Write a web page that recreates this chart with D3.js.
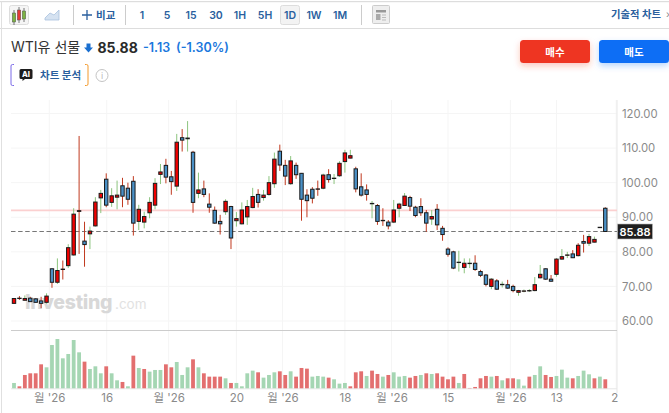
<!DOCTYPE html>
<html><head><meta charset="utf-8">
<script src="https://cdn.jsdelivr.net/npm/d3@7/dist/d3.min.js"></script>
<style>html,body{margin:0;padding:0;background:#fff;overflow:hidden}svg{display:block}text{font-family:Inter,"Noto Sans CJK KR",sans-serif}</style>
</head><body><svg id="c" width="669" height="413"></svg>
<script>
const opens=[65.1,66.5,66.0,66.6,66.4,65.8,65.4,75.1,71.2,74.9,76,79.1,91.7,83.1,85.2,87.5,95.6,101,94.3,95.8,99.1,98.4,100.4,88.8,88.6,91.3,93.5,102.4,105,101.7,99,113,112.7,108.8,96.9,98.2,93.8,92,88.8,91.6,93.1,89,88.1,90.1,92.8,96.6,95.7,96.6,99.7,109.1,105,99.7,105,102.7,96.4,98.1,98.1,98.4,102.3,101.2,102,106.1,107.1,104,98.8,97.9,93.9,93.4,89,88.6,88.6,92.6,93.4,95.7,92.9,93.1,91.3,89.5,92.3,86.8,80.8,80,76.9,75.5,76.6,76.7,74.3,73.3,70,71.6,70.5,70.5,70,68.3,68.6,68.7,68.8,72.5,75.1,72.1,73.5,77.9,79,79.4,78.9,83,82.5,82.8,87,92.6];
const closes=[66.5,66.6,66.5,65.6,65.4,65.1,67.2,71.2,74.6,75,81.2,90.9,91.9,82.1,86,94.4,96.9,93.5,96.2,96.4,96.1,95.2,88.3,92.3,90.2,94.3,99.8,103.1,101.6,100.3,111.7,112.3,112.9,94.3,97.9,96.6,92.9,88.3,88.1,94.6,84,89.6,92.1,93.1,96,94.3,96.4,100,106.8,105.1,101.9,106.3,102.3,95.2,94.8,95.5,98.2,102.2,100.9,101.3,105.6,108.6,107.8,98.2,96.4,96.6,94,88.8,89.1,87.5,92.1,93.8,96.1,93.2,90.5,91.3,88.3,90.2,87.8,85,79.3,75.3,77,76.7,76.7,74.9,73.2,70.6,72.1,69.2,70.6,69.5,68.8,68.8,68.7,68.8,70.5,73.5,72.1,71.5,77.9,78.6,79.1,78.3,81.9,82.5,84.4,83.6,87.1,85.88];
const highs=[66.6,67.2,67.4,67,66.6,67,68,75.2,78.1,77.5,82.2,92.6,113.5,88.7,87.3,95.8,97.9,102.7,98.4,100.6,101.4,100,101.9,93.6,91.6,95.8,101.3,105.4,106.9,103.4,114.1,115.5,117.8,109.2,102.9,100.6,96.9,93.1,90.7,95.2,93.3,91.5,94.3,95,98.5,98.1,97.9,101.9,108.7,111,106.6,107.7,105.8,102.8,98.1,98.7,100.6,102.6,103.9,102.5,106.2,109.5,109.5,104.6,102.7,99.5,94.7,93.8,92.6,89.2,95,94.2,97,96.2,93.3,95.5,92.1,92.1,93.8,87.5,81.3,80.3,80.3,78.1,78.1,79,74.8,73.6,72.4,72.1,71.4,71.9,70.5,69,69.1,69.2,72.7,76.2,75.2,73.3,78.2,80.8,80,80.5,82.5,84.9,85.2,84.4,87.1,92.9];
const lows=[65,66.1,65.9,65.5,65.3,63.7,65,69.6,70.7,72,75.3,78.9,79.4,75.7,80.8,87.3,91.2,92.9,93,92.3,92.9,93.6,84.7,86.3,86.8,89.7,92.3,99.6,99.8,96.5,97.6,109,109,91.3,95.5,95.8,91.3,88.1,85,90.7,80.8,87.3,87.9,87.8,92.6,92.8,94.8,96.2,98.5,103.4,99.3,99.4,101.1,89,90,94,96.2,98.1,100,99.6,101.7,102.9,107,97.2,96,94.8,89.7,87.8,87.5,86.5,88.3,90,93.3,91.8,90,90.4,85.8,87.8,86.3,83.2,78.6,75,74.3,73.8,75.3,74.5,72.7,70,69.2,69,69.7,69.3,68.3,67.3,68.3,68.4,68.6,72.3,71.9,71.4,72.8,77.7,78.2,78.2,78.7,79.8,81.7,82.7,87.1,85.88];
const wickTones=["r","r","g","r","r","r","g","r","g","r","g","g","r","r","g","g","g","r","g","g","r","r","r","g","g","g","g","g","r","r","g","r","g","r","g","r","r","r","r","g","r","g","g","g","g","r","g","g","g","r","r","g","r","r","r","r","r","g","r","g","g","g","g","r","r","r","g","r","r","r","g","g","g","r","r","r","r","g","r","r","r","r","g","g","g","r","r","r","g","r","g","r","r","g","g","g","g","g","r","r","g","g","g","r","r","r","g","g","g","r"];
const volumes=[16,6,40,45,45,72,63,130,148,90,103,145,108,80,58,66,45,66,45,24,19,6,98,61,58,50,55,55,72,63,79,40,63,87,63,45,35,35,35,30,16,16,6,45,53,48,32,40,48,51,40,51,35,61,59,35,37,35,32,27,14,16,6,48,51,37,53,43,35,40,48,35,37,32,37,40,45,43,45,35,27,35,16,43,1,4,30,37,35,37,24,30,30,27,8,35,40,66,40,34,37,56,32,30,37,53,42,30,35,27];
const volumeDirs=["g","r","r","r","r","r","g","g","g","g","g","g","g","r","g","g","g","r","g","g","r","g","r","g","r","g","g","g","r","r","g","g","g","r","g","r","r","r","r","g","r","g","g","g","g","r","g","g","g","r","r","g","r","r","r","g","g","g","r","g","g","g","r","r","r","g","r","r","g","r","g","g","g","r","r","g","r","g","r","r","r","r","g","r","r","r","r","r","g","r","g","r","r","g","g","r","g","g","r","r","g","g","g","r","g","g","g","r","g","r"];
const priceTicks=[60,70,80,90,100,110,120];
const timeTickPos=[6.5,17.1,28.5,41,49.5,61,69.6,80,91.5,100,111];
const timeTickLabels=["월 '26","16","월 '26","20","월 '26","18","월 '26","15","월 '26","13","2"];
const lastPrice=85.88, refPrice=92;
const toolbarLabels=["1","5","15","30","1H","5H","1D","1W","1M"];
const toolbarX=[142,167,191,216,240,265,290,314,340];

const svg=d3.select("#c");
const x=d3.scaleLinear().domain([0,109]).range([14,605.3]);
const y=d3.scaleLinear().domain([60,120]).range([321,113.5]);
const yv=d3.scaleLinear().domain([0,160]).range([388.3,335]);
const L=11,R=617;

// frame + toolbar
svg.append("rect").attr("x",0).attr("y",1).attr("width",669).attr("height",1.2).attr("fill","#ddd");
svg.append("rect").attr("x",0).attr("y",28).attr("width",669).attr("height",1).attr("fill","#ddd");
svg.append("rect").attr("x",1).attr("y",1).attr("width",1).attr("height",412).attr("fill","#e0e0e0");
const tb=svg.append("g");
tb.append("rect").attr("x",9.5).attr("y",5.5).attr("width",19).attr("height",19).attr("rx",2).attr("fill","#f5f5f5").attr("stroke","#ddd");
[[14,"#7cb342",13,9],[19,"#e53935",10,10],[24,"#7cb342",11,8]].forEach(d=>{
 tb.append("line").attr("x1",d[0]).attr("x2",d[0]).attr("y1",d[2]-3).attr("y2",d[2]+d[3]+3).attr("stroke","#555").attr("stroke-width",.8);
 tb.append("rect").attr("x",d[0]-1.7).attr("y",d[2]).attr("width",3.4).attr("height",d[3]).attr("fill",d[1]).attr("stroke","#555").attr("stroke-width",.5);
});
tb.append("path").attr("d","M45 18 L50 13 L54 15 L59 10 L59 20 L45 20Z").attr("fill","#d5e2f1").attr("stroke","#a9c2de").attr("stroke-width",.8);
[73,125,361].forEach(d=>tb.append("rect").attr("x",d).attr("y",5).attr("width",1).attr("height",20).attr("fill","#ccc"));
tb.append("path").attr("d","M82 15H92M87 10V20").attr("stroke","#2a5f9e").attr("stroke-width",1.3).attr("fill","none");
tb.append("text").attr("x",96).attr("y",18.5).attr("font-size",10.5).attr("font-weight",600).attr("fill","#2a5f9e").text("비교");
tb.append("rect").attr("x",280.5).attr("y",5.5).attr("width",19).attr("height",19).attr("rx",2).attr("fill","#f3f3f3").attr("stroke","#ddd");
toolbarLabels.forEach((t,i)=>tb.append("text").attr("x",toolbarX[i]).attr("y",19).attr("text-anchor","middle").attr("font-size",10.5).attr("font-weight",600).attr("fill","#2a5f9e").text(t));
tb.append("rect").attr("x",372.5).attr("y",5.5).attr("width",17).attr("height",18).attr("rx",1).attr("fill","#eee").attr("stroke","#ccc");
tb.append("rect").attr("x",376).attr("y",10).attr("width",10).attr("height",2.5).attr("fill","#999");
tb.append("rect").attr("x",376).attr("y",14).attr("width",4.5).attr("height",6).attr("fill","#aaa");
tb.append("path").attr("d","M382 15H386M382 17.5H386M382 20H386").attr("stroke","#bbb").attr("stroke-width",1);
tb.append("text").attr("x",611).attr("y",18).attr("font-size",10.3).attr("font-weight",600).attr("fill","#2a5f9e").text("기술적 차트");
tb.append("text").attr("x",666).attr("y",18).attr("font-size",10).attr("fill","#888").text("›");

// title
const hd=svg.append("g");
hd.append("text").attr("x",11).attr("y",52).attr("font-size",14).attr("fill","#333").text("WTI유 선물");
hd.append("path").attr("d","M86.5 43.5h4v4h2.5l-4.5 5-4.5-5h2.5z").attr("fill","#1a6fd0");
hd.append("text").attr("x",97.5).attr("y",52.5).attr("font-size",14).attr("font-weight",700).attr("fill","#2a2a2a").text("85.88");
hd.append("text").attr("x",143).attr("y",51.5).attr("font-size",12.5).attr("font-weight",600).attr("fill","#1a77dd").text("-1.13");
hd.append("text").attr("x",176).attr("y",51.5).attr("font-size",12.5).attr("font-weight",600).attr("fill","#1a77dd").text("(-1.30%)");
hd.append("path").attr("d","M14 64.5h-1.5a1.5 1.5 0 0 0-1.5 1.5v18a1.5 1.5 0 0 0 1.5 1.5H14").attr("fill","none").attr("stroke","#7b6be8").attr("stroke-width",1);
hd.append("path").attr("d","M85 64.5h1.5a1.5 1.5 0 0 1 1.5 1.5v18a1.5 1.5 0 0 1-1.5 1.5H85").attr("fill","none").attr("stroke","#f39a2d").attr("stroke-width",1);
hd.append("path").attr("d","M21 69h10a1.5 1.5 0 0 1 1.5 1.5v7a1.5 1.5 0 0 1-1.5 1.5h-6l-2.5 2v-2H21a1.5 1.5 0 0 1-1.5-1.5v-7A1.5 1.5 0 0 1 21 69z").attr("fill","#1d1d1d");
hd.append("text").attr("x",26).attr("y",77).attr("text-anchor","middle").attr("font-size",7.5).attr("font-weight",800).attr("fill","#fff").text("AI");
hd.append("text").attr("x",40).attr("y",79).attr("font-size",10.5).attr("font-weight",700).attr("fill","#2a5f9e").text("차트 분석");
hd.append("circle").attr("cx",102).attr("cy",75.5).attr("r",6).attr("fill","none").attr("stroke","#c4c4c4").attr("stroke-width",1);
hd.append("text").attr("x",102).attr("y",79).attr("text-anchor","middle").attr("font-size",9).attr("fill","#bbb").text("i");

// buttons
const defs=svg.append("defs");
const mk=(id,c)=>{const f=defs.append("filter").attr("id",id).attr("x","-20%").attr("y","-40%").attr("width","140%").attr("height","200%");
 f.append("feDropShadow").attr("dx",0).attr("dy",3).attr("stdDeviation",3).attr("flood-color",c).attr("flood-opacity",.28);};
mk("sr","#ee3524");mk("sb","#0a6ef5");
[[520,"#ee3524","매수","sr"],[599,"#0a6ef5","매도","sb"]].forEach(d=>{
 svg.append("rect").attr("x",d[0]).attr("y",40).attr("width",70).attr("height",23).attr("rx",3.5).attr("fill",d[1]).attr("filter",`url(#${d[3]})`);
 svg.append("text").attr("x",d[0]+35).attr("y",56).attr("text-anchor","middle").attr("font-size",10.5).attr("font-weight",700).attr("fill","#fff").text(d[2]);
});

// grid
const grid=svg.append("g");
priceTicks.forEach(t=>grid.append("line").attr("x1",L).attr("x2",R).attr("y1",y(t)).attr("y2",y(t)).attr("stroke","#f5f5f5"));
timeTickPos.forEach(t=>grid.append("line").attr("x1",x(t)).attr("x2",x(t)).attr("y1",100).attr("y2",388).attr("stroke","#f5f5f5"));
svg.append("rect").attr("x",R-.5).attr("y",100).attr("width",1).attr("height",293).attr("fill","#e8e8e8");
svg.append("rect").attr("x",L).attr("y",330).attr("width",R-L).attr("height",1).attr("fill","#ccc");
svg.append("rect").attr("x",L).attr("y",388.3).attr("width",R-L).attr("height",1).attr("fill","#e6e6e6");

// watermark
const wm=svg.append("g");
wm.append("text").attr("x",25).attr("y",308.5).attr("font-size",19.5).attr("font-weight",800).attr("fill","#d8d8d8").attr("letter-spacing",-.3).text("Investing");
wm.append("text").attr("x",115).attr("y",309).attr("font-size",13.5).attr("fill","#e2e2e2").text(".com");

// reference & last price lines
svg.append("line").attr("x1",L).attr("x2",R).attr("y1",y(refPrice)).attr("y2",y(refPrice)).attr("stroke","#fbd0d0").attr("stroke-width",1.6);
svg.append("line").attr("x1",L).attr("x2",R).attr("y1",y(lastPrice)).attr("y2",y(lastPrice)).attr("stroke","#777").attr("stroke-width",1.1).attr("stroke-dasharray","4.5 2.6");

// volume
const idx=d3.range(opens.length);
svg.append("g").selectAll("rect").data(idx).join("rect")
 .attr("x",i=>x(i)-1.9).attr("width",3.8)
 .attr("y",i=>yv(volumes[i])).attr("height",i=>yv(0)-yv(volumes[i]))
 .attr("fill",i=>volumeDirs[i]==="r"?"#e36f6f":"#a5d6b3");

// candles
const wickCol={r:"#c0391f",g:"#8cc47e"};
svg.append("g").selectAll("line").data(idx).join("line")
 .attr("x1",i=>x(i)).attr("x2",i=>x(i)).attr("y1",i=>y(highs[i])).attr("y2",i=>y(lows[i]))
 .attr("stroke",i=>wickCol[wickTones[i]]).attr("stroke-width",1);
svg.append("g").selectAll("rect").data(idx).join("rect")
 .attr("x",i=>x(i)-1.7).attr("width",3.4)
 .attr("y",i=>y(Math.max(opens[i],closes[i])))
 .attr("height",i=>Math.max(.2,Math.abs(y(opens[i])-y(closes[i]))))
 .attr("fill",i=>closes[i]>=opens[i]?"#f00000":"#4a90c6")
 .attr("stroke","#1a1a1a").attr("stroke-width",1);

// axes
const ax=svg.append("g").attr("transform",`translate(${R},0)`).call(d3.axisRight(y).tickValues(priceTicks).tickSize(0).tickPadding(5).tickFormat(d3.format(".2f")));
ax.select(".domain").remove();
ax.selectAll("text").attr("font-size",11.3).attr("fill","#8a8a8a").attr("font-family",null);
const bx=svg.append("g").attr("transform","translate(0,394)").call(d3.axisBottom(x).tickValues(timeTickPos).tickSize(0).tickPadding(0).tickFormat((d,i)=>timeTickLabels[i]));
bx.select(".domain").remove();
bx.selectAll("text").attr("font-size",11.5).attr("fill","#8a8a8a").attr("font-family",null).attr("dx",(d,i)=>i===timeTickPos.length-1?-2:0);

// last price tag
svg.append("rect").attr("x",R+.5).attr("y",y(lastPrice)-7.5).attr("width",35).attr("height",15).attr("fill","#1f1f1f").attr("stroke","#bbb").attr("stroke-width",.6);
svg.append("text").attr("x",R+18).attr("y",y(lastPrice)+4.1).attr("text-anchor","middle").attr("font-size",11).attr("font-weight",600).attr("fill","#fff").text(d3.format(".2f")(lastPrice));
</script></body></html>
